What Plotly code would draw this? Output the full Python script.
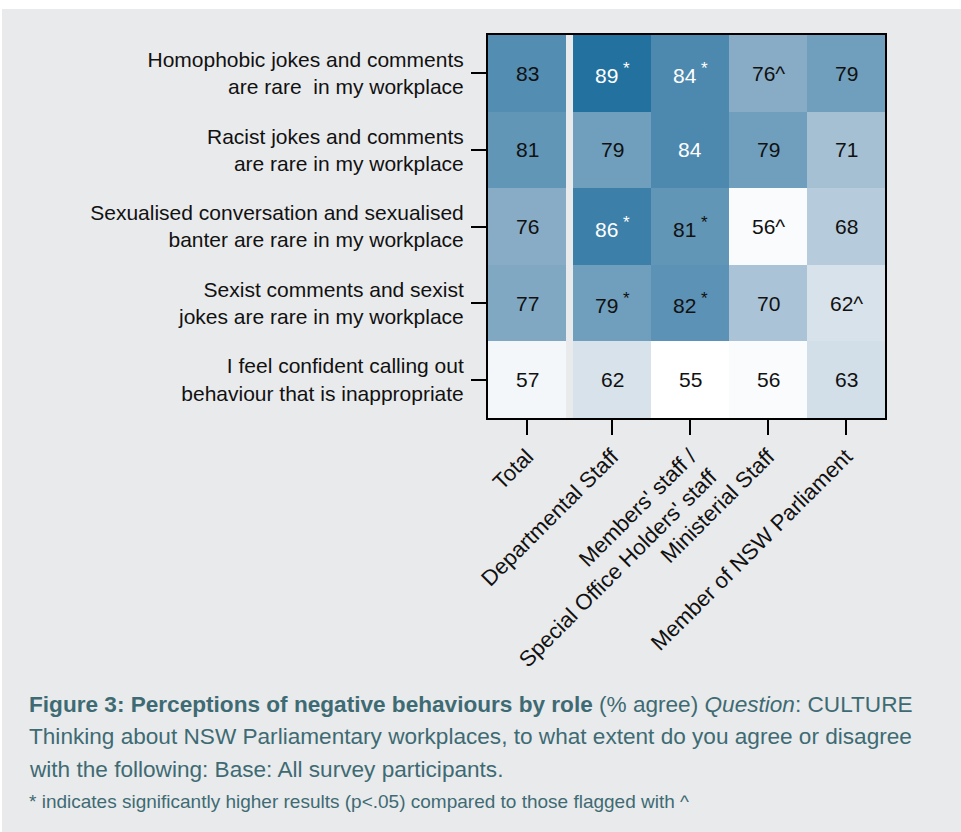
import plotly.graph_objects as go

# roles (columns) and statements (rows), % agree
roles = [
    "Total",
    "Departmental Staff",
    "Members' staff /<br>Special Office Holders' staff",
    "Ministerial Staff",
    "Member of NSW Parliament",
]
statements = [
    "Homophobic jokes and comments<br>are rare  in my workplace",
    "Racist jokes and comments<br>are rare in my workplace",
    "Sexualised conversation and sexualised<br>banter are rare in my workplace",
    "Sexist comments and sexist<br>jokes are rare in my workplace",
    "I feel confident calling out<br>behaviour that is inappropriate",
]
homophobic = [83, 89, 84, 76, 79]
racist = [81, 79, 84, 79, 71]
sexualised = [76, 86, 81, 56, 68]
sexist = [77, 79, 82, 70, 62]
confident = [57, 62, 55, 56, 63]

homophobic_flags = ["", "*", "*", "^", ""]
racist_flags = ["", "", "", "", ""]
sexualised_flags = ["", "*", "*", "^", ""]
sexist_flags = ["", "*", "*", "", "^"]
confident_flags = ["", "", "", "", ""]

values = [homophobic, racist, sexualised, sexist, confident]
flags = [homophobic_flags, racist_flags, sexualised_flags, sexist_flags, confident_flags]

PANEL = "#E9EAEC"
CAPTION = "#3E6B73"
FONT = "Liberation Sans, Arial, sans-serif"

W, H = 961, 832
L, R, T, B = 488, 76, 35, 414
GAP = 0.09  # gap between Total and the role columns

scale = [
    [0.0, "#FFFFFF"],
    [0.206, "#D7E2EA"],
    [0.441, "#ABC3D6"],
    [0.618, "#88ACC6"],
    [0.706, "#6F9FBD"],
    [0.853, "#4D89AF"],
    [1.0, "#23719F"],
]

y_edges = list(range(len(statements) + 1))
total_x = [0, 1]
role_x = [1 + GAP + i for i in range(len(roles))]

fig = go.Figure()
fig.add_trace(
    go.Heatmap(
        z=[[row[0]] for row in values],
        x=total_x,
        y=y_edges,
        coloraxis="coloraxis",
        hoverinfo="skip",
    )
)
fig.add_trace(
    go.Heatmap(
        z=[row[1:] for row in values],
        x=role_x,
        y=y_edges,
        coloraxis="coloraxis",
        hoverinfo="skip",
    )
)

centers = [0.5] + [1 + GAP + i + 0.5 for i in range(len(roles) - 1)]

for r, row in enumerate(values):
    for c, v in enumerate(row):
        f = flags[r][c]
        if f == "*":
            label = f"{v}<sup><span style='font-size:17px'> *</span></sup>"
        else:
            label = f"{v}{f}"
        fig.add_annotation(
            x=centers[c],
            y=r + 0.5,
            text=label,
            showarrow=False,
            font=dict(size=21, color="white" if v >= 84 else "#111111"),
        )


def py(p):
    return (H - B - p) / (H - T - B)


def px(p):
    return (p - L) / (W - L - R)


# light grey panel behind everything
fig.add_shape(
    type="rect", xref="paper", yref="paper",
    x0=px(2), x1=px(W + 5), y0=py(H + 5), y1=py(9),
    fillcolor=PANEL, line_width=0, layer="below",
)

caption_lines = [
    "<b>Figure 3: Perceptions of negative behaviours by role</b> (% agree) <i>Question</i>: CULTURE",
    "Thinking about NSW Parliamentary workplaces, to what extent do you agree or disagree",
    "with the following: Base: All survey participants.",
]
for i, line in enumerate(caption_lines):
    fig.add_annotation(
        xref="paper", yref="paper", x=px(27), y=py(704 + i * 32.5),
        xanchor="left", yanchor="middle", text=line, showarrow=False,
        font=dict(size=22.6, color=CAPTION),
    )
fig.add_annotation(
    xref="paper", yref="paper", x=px(27), y=py(802),
    xanchor="left", yanchor="middle",
    text="* indicates significantly higher results (p<.05) compared to those flagged with ^",
    showarrow=False, font=dict(size=19, color=CAPTION),
)

axis_common = dict(
    showline=True, linecolor="black", linewidth=2, mirror=True,
    ticks="outside", ticklen=15, tickwidth=2, tickcolor="black",
    showgrid=False, zeroline=False,
)

fig.update_layout(
    width=W, height=H,
    margin=dict(l=L, r=R, t=T, b=B),
    paper_bgcolor="white",
    plot_bgcolor="#EEEFF1",
    font=dict(family=FONT, color="#111111"),
    coloraxis=dict(colorscale=scale, cmin=55, cmax=89, showscale=False),
    xaxis=dict(
        range=[0, len(roles) + GAP], tickvals=centers, ticktext=roles,
        tickangle=-45, tickfont=dict(size=22, color="#111111"), **axis_common,
    ),
    yaxis=dict(
        range=[len(statements), 0], tickvals=[i + 0.5 for i in range(len(statements))],
        ticktext=statements, tickfont=dict(size=21, color="#111111"),
        ticklabelstandoff=3, **axis_common,
    ),
    showlegend=False,
)

fig.write_html(
    "out.html",
    config={"displayModeBar": False},
    post_script="document.body.style.margin='0px';",
)
